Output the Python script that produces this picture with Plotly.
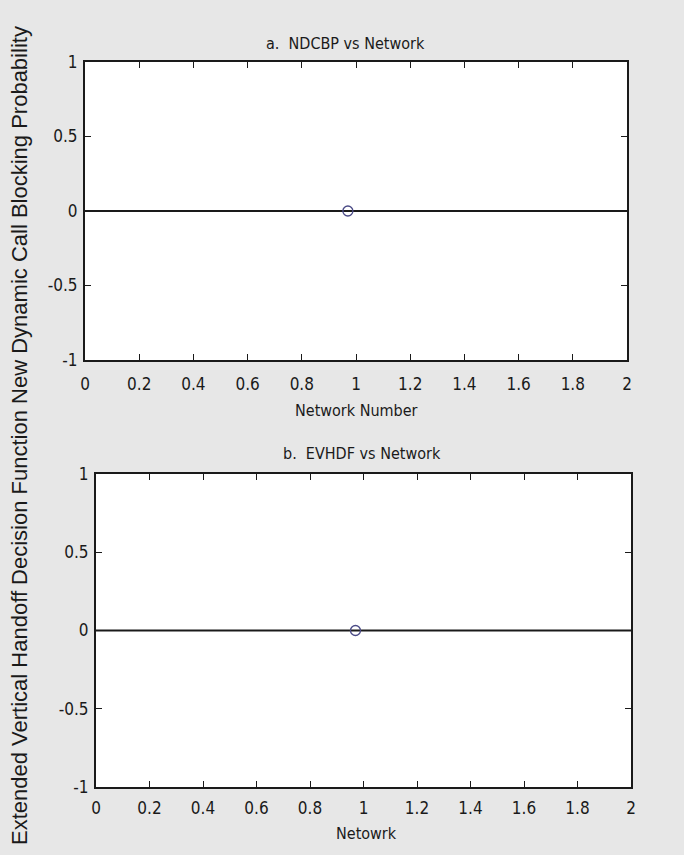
import plotly.graph_objects as go

# Data for the two panels
network_line = [0, 2]
ndcbp_line = [0, 0]
evhdf_line = [0, 0]
network_point = [0.97]
ndcbp_point = [0]
evhdf_point = [0]

x_ticks = [0, 0.2, 0.4, 0.6, 0.8, 1, 1.2, 1.4, 1.6, 1.8, 2]
x_ticklabels = ["0", "0.2", "0.4", "0.6", "0.8", "1", "1.2", "1.4", "1.6", "1.8", "2"]
y_ticks = [-1, -0.5, 0, 0.5, 1]
y_ticklabels = ["-1", "-0.5", "0", "0.5", "1"]

FONT = "DejaVu Sans Condensed, Liberation Sans Narrow, Liberation Sans, sans-serif"
INK = "#1a1a1a"
MARK = "#4a4a86"

fig = go.Figure()

# panel a
fig.add_trace(go.Scatter(x=network_line, y=ndcbp_line, mode="lines",
                         line=dict(color=INK, width=2.2), xaxis="x", yaxis="y",
                         showlegend=False))
fig.add_trace(go.Scatter(x=network_point, y=ndcbp_point, mode="markers",
                         marker=dict(symbol="circle-open", size=10, color=MARK,
                                     line=dict(width=1.3, color=MARK)),
                         xaxis="x", yaxis="y", showlegend=False))
# panel b
fig.add_trace(go.Scatter(x=network_line, y=evhdf_line, mode="lines",
                         line=dict(color=INK, width=2.2), xaxis="x2", yaxis="y2",
                         showlegend=False))
fig.add_trace(go.Scatter(x=network_point, y=evhdf_point, mode="markers",
                         marker=dict(symbol="circle-open", size=10, color=MARK,
                                     line=dict(width=1.3, color=MARK)),
                         xaxis="x2", yaxis="y2", showlegend=False))

W, H = 684, 855


def px_x(v):
    return v / W


def px_y(v):
    return 1 - v / H


axis_common = dict(showline=True, linecolor=INK, linewidth=2, mirror="ticks",
                   ticks="inside", ticklen=6, tickwidth=1.2, tickcolor=INK,
                   showgrid=False, zeroline=False, automargin=False,
                   tickfont=dict(family=FONT, size=17, color=INK))

fig.update_layout(
    width=W, height=H, autosize=False,
    margin=dict(l=0, r=0, t=0, b=0, pad=0, autoexpand=False),
    paper_bgcolor="#e7e7e7",
    plot_bgcolor="#ffffff",
    xaxis=dict(domain=[px_x(85), px_x(627)], range=[0, 2], anchor="y",
               tickvals=x_ticks, ticktext=x_ticklabels, ticklabelstandoff=8,
               **axis_common),
    yaxis=dict(domain=[px_y(360), px_y(62)], range=[-1, 1], anchor="x",
               tickvals=y_ticks, ticktext=y_ticklabels, ticklabelstandoff=2,
               **axis_common),
    xaxis2=dict(domain=[px_x(96), px_x(631)], range=[0, 2], anchor="y2",
                tickvals=x_ticks, ticktext=x_ticklabels, ticklabelstandoff=5,
                **axis_common),
    yaxis2=dict(domain=[px_y(787), px_y(474)], range=[-1, 1], anchor="x2",
                tickvals=y_ticks, ticktext=y_ticklabels, ticklabelstandoff=2,
                **axis_common),
)

text_font = dict(family=FONT, size=16, color=INK)
annotations = [
    dict(text="a.  NDCBP vs Network", x=px_x(345), y=px_y(43)),
    dict(text="Network Number", x=px_x(356), y=px_y(410)),
    dict(text="b.  EVHDF vs Network", x=px_x(362), y=px_y(453)),
    dict(text="Netowrk", x=px_x(366), y=px_y(833)),
]
for a in annotations:
    fig.add_annotation(xref="paper", yref="paper", showarrow=False,
                       xanchor="center", yanchor="middle", font=text_font, **a)

fig.add_annotation(
    text="Extended Vertical Handoff Decision Function New Dynamic Call Blocking Probability",
    xref="paper", yref="paper", x=px_x(19), y=px_y(436), textangle=-90,
    showarrow=False, xanchor="center", yanchor="middle",
    font=dict(family="Liberation Sans, Arial, sans-serif", size=22, color=INK),
)

fig.write_html("out.html")
